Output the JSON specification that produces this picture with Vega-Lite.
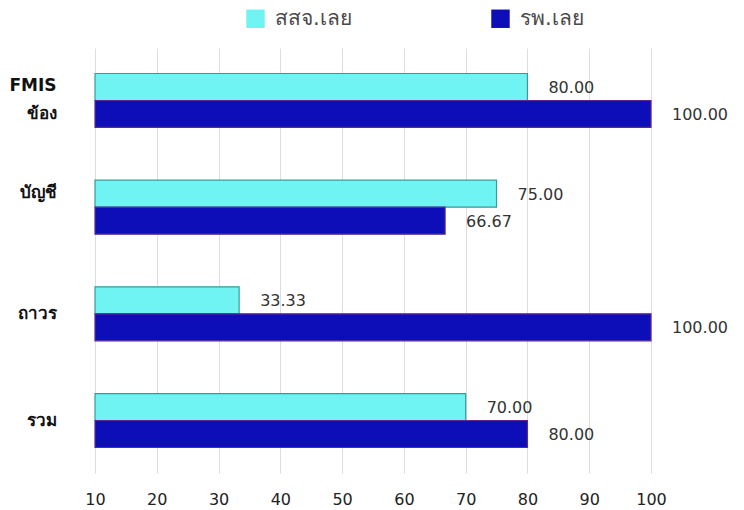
{
  "$schema": "https://vega.github.io/schema/vega-lite/v6.json",
  "width": 556,
  "height": 425,
  "autosize": "none",
  "padding": {"left": 95, "top": 48, "right": 93, "bottom": 37},
  "background": "white",
  "config": {
    "view": {"stroke": null},
    "font": "DejaVu Sans"
  },
  "data": {
    "values": [
      {"group": "FMIS|ข้อง", "unit": "สสจ.เลย", "score": 80},
      {"group": "FMIS|ข้อง", "unit": "รพ.เลย", "score": 100},
      {"group": "บัญชี|", "unit": "สสจ.เลย", "score": 75},
      {"group": "บัญชี|", "unit": "รพ.เลย", "score": 66.67},
      {"group": "ถาวร", "unit": "สสจ.เลย", "score": 33.33},
      {"group": "ถาวร", "unit": "รพ.เลย", "score": 100},
      {"group": "รวม", "unit": "สสจ.เลย", "score": 70},
      {"group": "รวม", "unit": "รพ.เลย", "score": 80}
    ]
  },
  "encoding": {
    "y": {
      "field": "group",
      "type": "nominal",
      "sort": ["FMIS|ข้อง", "บัญชี|", "ถาวร", "รวม"],
      "scale": {"paddingInner": 0.494, "paddingOuter": 0.239},
      "axis": {
        "title": null,
        "domain": false,
        "ticks": false,
        "labelPadding": 39,
        "labelFontSize": 17,
        "labelFontWeight": "bold",
        "labelColor": "#111111",
        "labelLineHeight": 28,
        "labelOffset": {"condition": {"test": "indexof(datum.value, '|') >= 0", "value": -14}, "value": 0},
        "labelExpr": "split(datum.value, '|')"
      }
    },
    "yOffset": {
      "field": "unit",
      "type": "nominal",
      "sort": ["สสจ.เลย", "รพ.เลย"]
    },
    "x": {
      "field": "score",
      "type": "quantitative",
      "scale": {"domain": [10, 100], "zero": false, "nice": false},
      "axis": {
        "title": null,
        "values": [10, 20, 30, 40, 50, 60, 70, 80, 90, 100],
        "domain": false,
        "ticks": false,
        "labelPadding": 18,
        "labelFontSize": 16,
        "labelColor": "#222222",
        "gridColor": "#dddddd",
        "labelFlush": false
      }
    }
  },
  "layer": [
    {
      "mark": {"type": "bar", "strokeWidth": 1.2},
      "encoding": {
        "x2": {"datum": 10},
        "color": {
          "field": "unit",
          "type": "nominal",
          "sort": ["สสจ.เลย", "รพ.เลย"],
          "scale": {"domain": ["สสจ.เลย", "รพ.เลย"], "range": ["#6ff3f3", "#0e0eb8"]},
          "legend": {
            "title": null,
            "orient": "none",
            "legendX": 150,
            "legendY": -40,
            "direction": "horizontal",
            "columns": 2,
            "columnPadding": 138,
            "symbolType": "square",
            "symbolSize": 340,
            "symbolStrokeWidth": 0,
            "labelFontSize": 21,
            "labelOffset": 9,
            "labelColor": "#4a4a4a"
          }
        },
        "stroke": {
          "field": "unit",
          "type": "nominal",
          "scale": {"domain": ["สสจ.เลย", "รพ.เลย"], "range": ["#3a9a9a", "#5a2a90"]},
          "legend": null
        }
      }
    },
    {
      "mark": {"type": "text", "align": "left", "dx": 21, "dy": 1, "fontSize": 16, "color": "#333333"},
      "encoding": {
        "text": {"field": "score", "type": "quantitative", "format": ".2f"}
      }
    }
  ]
}
